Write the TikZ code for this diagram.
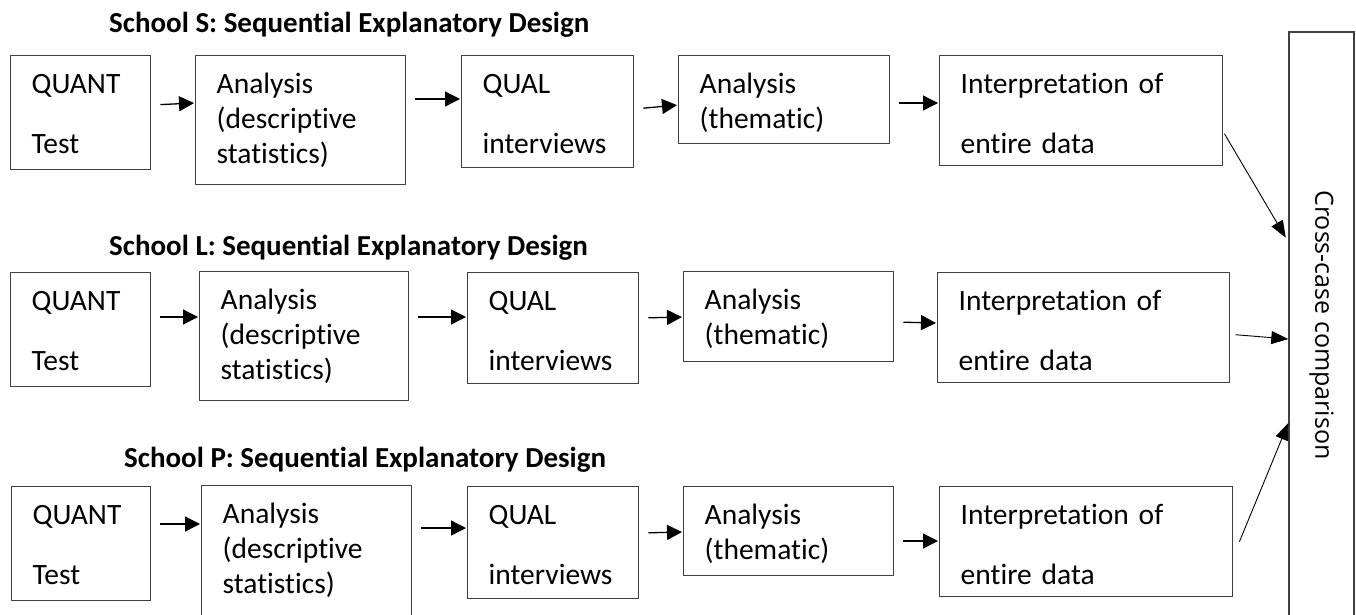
\documentclass[tikz,border=0pt]{standalone}
\usepackage{fontspec}
\setmainfont{Carlito}[Ligatures={NoCommon}]
\newfontfamily\crossfont{Open Sans}
\usetikzlibrary{arrows.meta,positioning}
\definecolor{boxgray}{RGB}{64,64,64}

\tikzset{
  stage/.style 2 args={draw=boxgray, line width=1.4pt, anchor=north west,
    inner xsep=21pt, inner ysep=0pt, align=left,
    font=\fontsize{29.5}{35}\selectfont,
    text width=#1, text height=38pt, text depth=#2},
  heading/.style={anchor=base west, inner sep=0pt,
    font=\fontsize{29}{34}\selectfont\bfseries},
  flow/.style={-{Triangle[length=15pt,width=15pt]}, line width=1.3pt,
    shorten <=9pt, shorten >=1pt},
  merge/.style={-{Triangle[length=17pt,width=13pt]}, line width=0.9pt}
}

\begin{document}
\begin{tikzpicture}[x=1pt,y=-1pt]
  \useasboundingbox (0,0) rectangle (1356,614);

  % School S
  \node[heading] (titleS) at (109,32) {School S: Sequential Explanatory Design};
  \node[stage={98pt}{76pt}] (quantS) at (10,55) {QUANT\\[25pt]Test};
  \node[stage={168pt}{91pt}] (anaS) at (195,55) {Analysis\\(descriptive\\statistics)};
  \node[stage={130pt}{74pt}] (qualS) at (461,55) {QUAL\\[25pt]interviews};
  \node[stage={169pt}{50pt}] (themS) at (678,55) {Analysis\\(thematic)};
  \node[stage={241pt}{72pt}] (interpS) at (939,55) {Interpretation of\\[25pt]entire data};
  \draw[flow] (quantS.east |- 0,105) -- (anaS.west |- 0,103);
  \draw[flow] (anaS.east |- 0,99) -- (qualS.west |- 0,99);
  \draw[flow] (qualS.east |- 0,109) -- (themS.west |- 0,105);
  \draw[flow] (themS.east |- 0,103) -- (interpS.west |- 0,103);

  % School L
  \node[heading] (titleL) at (109,255) {School L: Sequential Explanatory Design};
  \node[stage={98pt}{76pt}] (quantL) at (10,272) {QUANT\\[25pt]Test};
  \node[stage={167pt}{91pt}] (anaL) at (199,271) {Analysis\\(descriptive\\statistics)};
  \node[stage={129pt}{73pt}] (qualL) at (467,272) {QUAL\\[25pt]interviews};
  \node[stage={168pt}{52pt}] (themL) at (683,271) {Analysis\\(thematic)};
  \node[stage={250pt}{72pt}] (interpL) at (937,272) {Interpretation of\\[25pt]entire data};
  \draw[flow] (quantL.east |- 0,317) -- (anaL.west |- 0,317);
  \draw[flow] (anaL.east |- 0,317) -- (qualL.west |- 0,317);
  \draw[flow] (qualL.east |- 0,318) -- (themL.west |- 0,317);
  \draw[flow] (themL.east |- 0,322) -- (interpL.west |- 0,323);

  % School P
  \node[heading] (titleP) at (124,467) {School P: Sequential Explanatory Design};
  \node[stage={97pt}{76pt}] (quantP) at (11,486) {QUANT\\[25pt]Test};
  \node[stage={168pt}{95pt}] (anaP) at (201,485) {Analysis\\(descriptive\\statistics)};
  \node[stage={129pt}{74pt}] (qualP) at (467,486) {QUAL\\[25pt]interviews};
  \node[stage={168pt}{51pt}] (themP) at (683,486) {Analysis\\(thematic)};
  \node[stage={251pt}{72pt}] (interpP) at (939,486) {Interpretation of\\[25pt]entire data};
  \draw[flow] (quantP.east |- 0,524) -- (anaP.west |- 0,524);
  \draw[flow] (anaP.east |- 0,528) -- (qualP.west |- 0,528);
  \draw[flow] (qualP.east |- 0,533) -- (themP.west |- 0,532);
  \draw[flow] (themP.east |- 0,541) -- (interpP.west |- 0,541);

  % Cross-case box
  \node[draw=boxgray, line width=1.4pt, rotate=-90, inner sep=0pt,
        minimum width=586pt, minimum height=65pt,
        font=\crossfont\fontsize{25}{30}\selectfont] (cross) at (1321.5,325) {Cross-case comparison};
  \draw[merge, shorten >=5pt] ([xshift=1pt,yshift=-23pt]interpS.east) -- (cross.south |- 0,242);
  \draw[merge] ([xshift=5pt,yshift=-7pt]interpL.east) -- (cross.south |- 0,339);
  \draw[merge] ([xshift=6pt]interpP.east) -- (cross.south |- 0,423);
\end{tikzpicture}
\end{document}
